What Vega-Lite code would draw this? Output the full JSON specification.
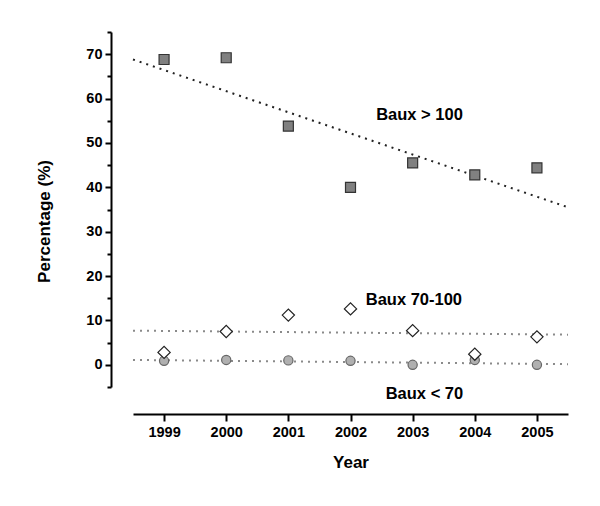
{
  "$schema": "https://vega.github.io/schema/vega-lite/v6.json",
  "width": 435,
  "height": 355,
  "autosize": {"type": "none"},
  "padding": {"left": 133, "top": 32, "right": 32, "bottom": 119},
  "background": "white",
  "config": {
    "view": {"stroke": null},
    "font": "Liberation Sans"
  },
  "datasets": {
    "points": [
      {"series": "Baux > 100", "year": 1999, "pct": 68.8},
      {"series": "Baux > 100", "year": 2000, "pct": 69.2},
      {"series": "Baux > 100", "year": 2001, "pct": 53.8},
      {"series": "Baux > 100", "year": 2002, "pct": 40.0},
      {"series": "Baux > 100", "year": 2003, "pct": 45.5},
      {"series": "Baux > 100", "year": 2004, "pct": 42.8},
      {"series": "Baux > 100", "year": 2005, "pct": 44.4},
      {"series": "Baux 70-100", "year": 1999, "pct": 2.8},
      {"series": "Baux 70-100", "year": 2000, "pct": 7.5},
      {"series": "Baux 70-100", "year": 2001, "pct": 11.2},
      {"series": "Baux 70-100", "year": 2002, "pct": 12.6},
      {"series": "Baux 70-100", "year": 2003, "pct": 7.7},
      {"series": "Baux 70-100", "year": 2004, "pct": 2.4},
      {"series": "Baux 70-100", "year": 2005, "pct": 6.3},
      {"series": "Baux < 70", "year": 1999, "pct": 0.9},
      {"series": "Baux < 70", "year": 2000, "pct": 1.1},
      {"series": "Baux < 70", "year": 2001, "pct": 1.0},
      {"series": "Baux < 70", "year": 2002, "pct": 0.9},
      {"series": "Baux < 70", "year": 2003, "pct": 0.0},
      {"series": "Baux < 70", "year": 2004, "pct": 1.1},
      {"series": "Baux < 70", "year": 2005, "pct": 0.0}
    ],
    "trends": [
      {"series": "Baux > 100", "year": 1998.5, "pct": 68.8},
      {"series": "Baux > 100", "year": 2005.5, "pct": 35.5},
      {"series": "Baux 70-100", "year": 1998.5, "pct": 7.7},
      {"series": "Baux 70-100", "year": 2005.5, "pct": 6.8},
      {"series": "Baux < 70", "year": 1998.5, "pct": 1.1},
      {"series": "Baux < 70", "year": 2005.5, "pct": 0.15}
    ],
    "labels": [
      {"series": "Baux > 100", "year": 2003.11, "pct": 56.2},
      {"series": "Baux 70-100", "year": 2003.02, "pct": 14.6},
      {"series": "Baux < 70", "year": 2003.19, "pct": -6.5}
    ]
  },
  "encoding": {
    "x": {
      "field": "year",
      "type": "quantitative",
      "scale": {"domain": [1998.5, 2005.5], "nice": false, "zero": false},
      "axis": {
        "title": "Year",
        "values": [1999, 2000, 2001, 2002, 2003, 2004, 2005],
        "format": "d",
        "grid": false,
        "offset": 27,
        "domainColor": "#000",
        "domainWidth": 2,
        "tickColor": "#000",
        "tickWidth": 2,
        "tickSize": 7,
        "labelFont": "Liberation Sans",
        "labelFontSize": 14.5,
        "labelFontWeight": "bold",
        "labelColor": "#000",
        "labelPadding": 4,
        "titleFont": "Liberation Sans",
        "titleFontSize": 17,
        "titleFontWeight": "bold",
        "titleColor": "#000",
        "titlePadding": 16
      }
    },
    "y": {
      "field": "pct",
      "type": "quantitative",
      "scale": {"domain": [-5, 75], "nice": false, "zero": false},
      "axis": {
        "title": "Percentage (%)",
        "values": [-5, 0, 5, 10, 15, 20, 25, 30, 35, 40, 45, 50, 55, 60, 65, 70, 75],
        "labelExpr": "(datum.value % 10 === 0) ? datum.label : ''",
        "grid": false,
        "offset": 22,
        "domainColor": "#000",
        "domainWidth": 2,
        "tickColor": "#000",
        "tickWidth": 2,
        "tickSize": {"condition": {"test": "datum.value % 10 === 0", "value": 6}, "value": 4},
        "labelFont": "Liberation Sans",
        "labelFontSize": 14.5,
        "labelFontWeight": "bold",
        "labelColor": "#000",
        "labelPadding": 3,
        "titleFont": "Liberation Sans",
        "titleFontSize": 17,
        "titleFontWeight": "bold",
        "titleColor": "#000",
        "titlePadding": 32,
        "titleY": 189
      }
    }
  },
  "layer": [
    {
      "data": {"name": "trends"},
      "mark": {"type": "line", "strokeWidth": 2, "strokeDash": [2, 5], "clip": false},
      "encoding": {
        "detail": {"field": "series"},
        "color": {
          "field": "series",
          "type": "nominal",
          "scale": {"domain": ["Baux > 100", "Baux 70-100", "Baux < 70"], "range": ["#222222", "#8a8a8a", "#8a8a8a"]},
          "legend": null
        }
      }
    },
    {
      "data": {"name": "points"},
      "transform": [{"filter": "datum.series === 'Baux < 70'"}],
      "mark": {"type": "point", "shape": "circle", "filled": true, "size": 85, "fill": "#b0b0b0", "stroke": "#666666", "strokeWidth": 1.2, "opacity": 1}
    },
    {
      "data": {"name": "points"},
      "transform": [{"filter": "datum.series === 'Baux 70-100'"}],
      "mark": {"type": "point", "shape": "diamond", "filled": true, "size": 150, "fill": "#ffffff", "stroke": "#222222", "strokeWidth": 1.2, "opacity": 1}
    },
    {
      "data": {"name": "points"},
      "transform": [{"filter": "datum.series === 'Baux > 100'"}],
      "mark": {"type": "point", "shape": "square", "filled": true, "size": 100, "fill": "#808080", "stroke": "#333333", "strokeWidth": 1.2, "opacity": 1}
    },
    {
      "data": {"name": "labels"},
      "mark": {"type": "text", "font": "Liberation Sans", "fontSize": 16.5, "fontWeight": "bold", "color": "#000", "align": "center", "baseline": "middle", "clip": false},
      "encoding": {"text": {"field": "series"}}
    }
  ]
}
